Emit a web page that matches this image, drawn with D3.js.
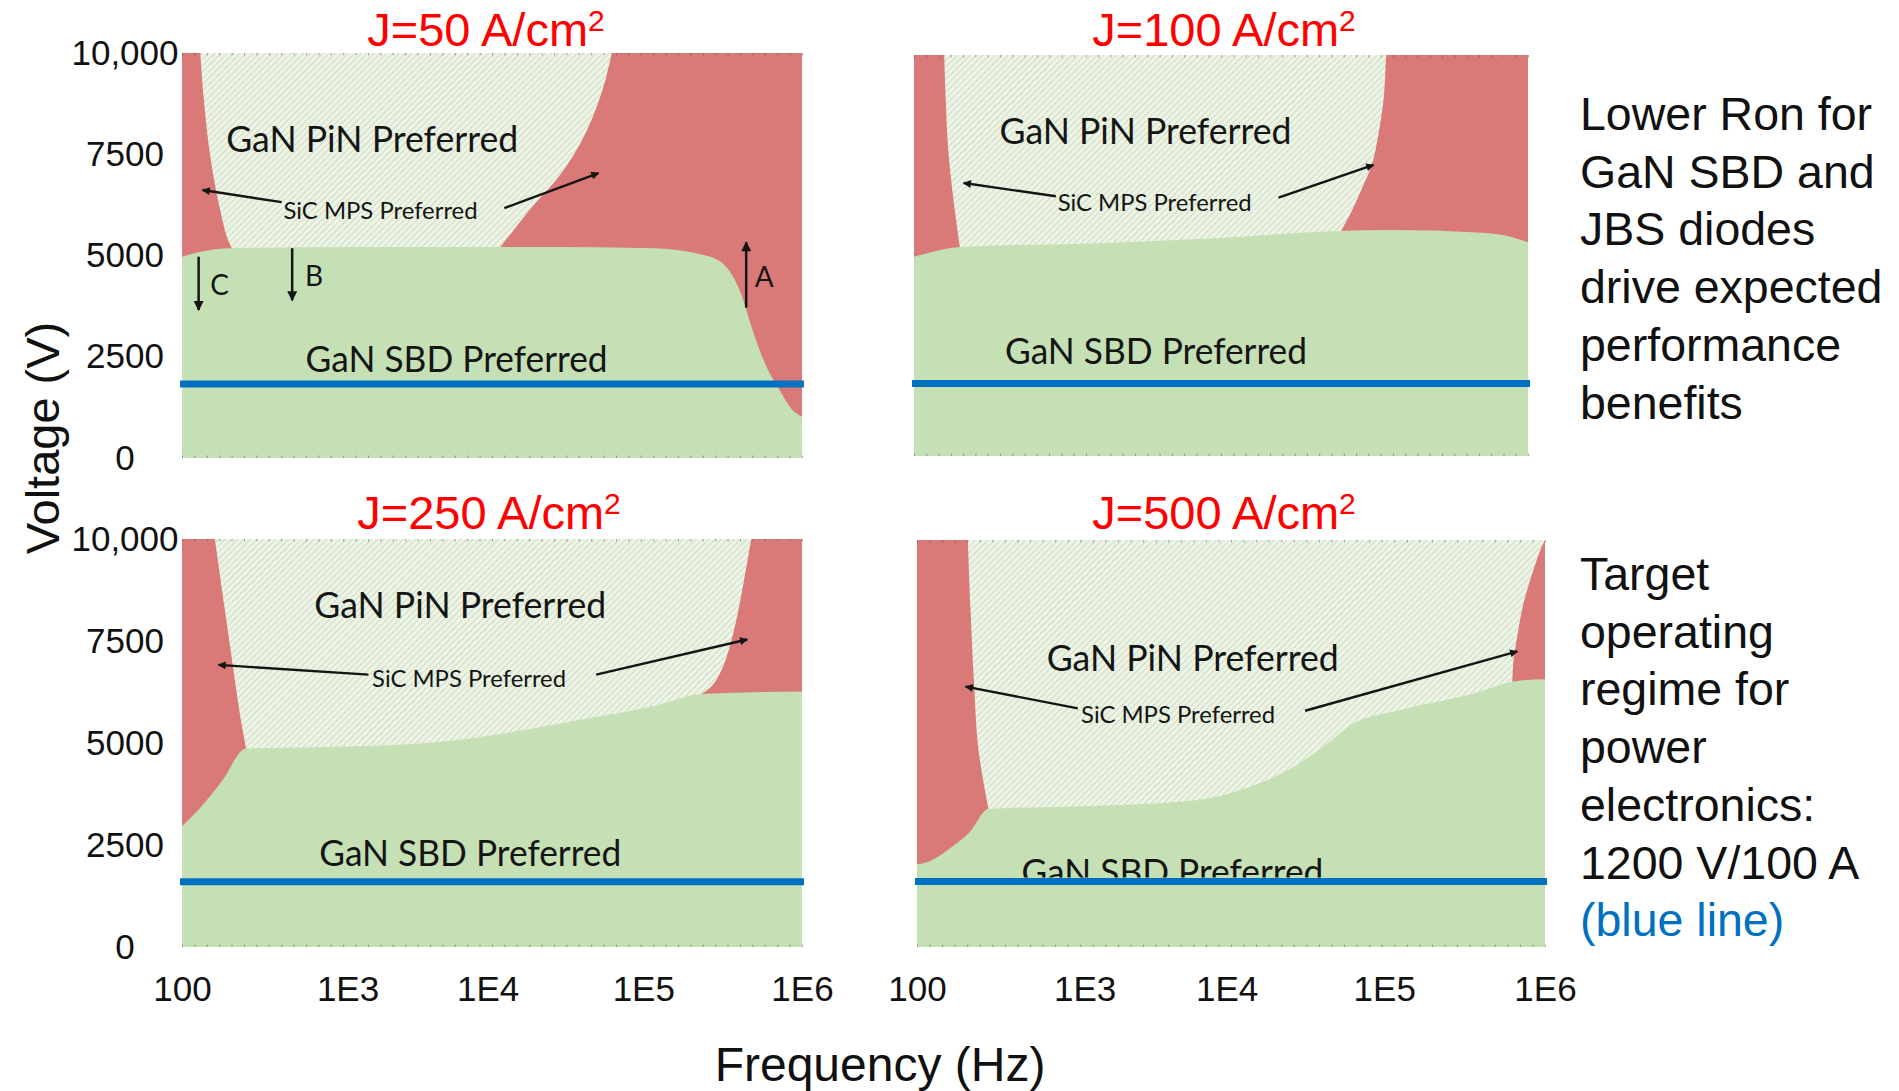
<!DOCTYPE html>
<html><head><meta charset="utf-8">
<script src="https://cdn.jsdelivr.net/npm/d3@7"></script>
<style>body{margin:0;background:#fff;} svg{display:block}</style>
</head><body>
<svg id="chart" width="1899" height="1091"></svg>
<script>
// ---------------- data ----------------
const currentDensity = [50, 100, 250, 500];
const freqTicks = [100, 1e3, 1e4, 1e5, 1e6];
const freqTickLabels = ["100", "1E3", "1E4", "1E5", "1E6"];
const voltTicks = [0, 2500, 5000, 7500, 10000];
const voltTickLabels = ["0", "2500", "5000", "7500", "10,000"];
const targetVoltage = [1830, 1810, 1600, 1610]; // blue line as drawn in each panel

// GaN PiN preferred region: left & right boundaries [freq Hz, voltage V], top to bottom
const pinLeft = [
  [[129,10000],[135,8920],[145,7725],[157,6826],[171,6078],[186,5479],[200,5180]],
  [[153,10000],[156,8946],[161,7741],[169,6837],[178,6084],[191,5181]],
  [[158,10000],[180,8368],[203,6884],[224,5697],[244,4866]],
  [[201,10000],[208,8393],[218,6607],[233,4821],[267,3393]]
];
const pinRight = [
  [[62700,10000],[57500,9371],[48000,8473],[38800,7725],[29000,6976],[19600,6228],[13700,5479],[11900,5180]],
  [[125000,10000],[121000,8946],[112000,8042],[102000,7289],[88000,6687],[74600,6084],[64600,5633]],
  [[479000,10000],[430000,8961],[375000,7804],[319000,6884],[272000,6409],[233000,6202]],
  [[1e6,10000],[931000,9732],[827000,9137],[730000,8393],[673000,7649],[637000,7054],[627000,6577]]
];
// GaN SBD preferred region: upper boundary [freq Hz, voltage V]
const sbdTop = [
  [[100,4970],[129,5090],[197,5180],[1300,5210],[23500,5210],[117000,5180],[229000,5030],[313000,4820],[414000,4042],[487000,3174],[589000,2305],[716000,1707],[851000,1228],[1e6,1018]],
  [[100,4970],[129,5090],[191,5211],[1210,5301],[9000,5422],[55600,5602],[137000,5633],[475000,5572],[806000,5452],[1e6,5331]],
  [[100,2967],[127,3383],[174,4065],[244,4866],[638,4896],[3270,4985],[13700,5252],[37400,5549],[117000,5905],[233000,6202],[1e6,6261]],
  [[100,2024],[124,2143],[159,2440],[204,2798],[267,3393],[882,3452],[5900,3601],[13300,3899],[28400,4494],[45800,5060],[60900,5446],[130000,5833],[331000,6190],[705000,6548],[1e6,6577]]
];
// region labels [freq, voltage]
const pinLabelPos = [[1500,7874],[3070,8102],[6380,8398],[5770,7113]];
const sicLabelPos = [[1720,6108],[3570,6325],[7370,6588],[4550,5714]];
const sbdLabelPos = [[6000,2455],[3650,2620],[7510,2315],[4150,1845]];
// SiC pointer arrows [tail, head]
const sicArrowLeft = [
  [[400,6317],[133,6617]], [[733,6476],[201,6807]], [[1410,6677],[166,6914]], [[910,5863],[195,6399]]
];
const sicArrowRight = [
  [[12800,6168],[51600,7036]], [[25200,6446],[104000,7259]], [[49800,6677],[452000,7537]], [[31500,5804],[673000,7262]]
];
// boundary shift arrows in J=50 panel
const shiftLabels = ["C", "B", "A"];
const shiftFreq = [126, 463, 445000];
const shiftFrom = [4970, 5180, 3713];
const shiftTo = [3653, 3892, 5329];
const shiftLabelPos = [[169,4281],[627,4491],[578000,4461]];

const sideText1 = ["Lower Ron for", "GaN SBD and", "JBS diodes", "drive expected", "performance", "benefits"];
const sideText2 = ["Target", "operating", "regime for", "power", "electronics:", "1200 V/100 A"];
const sideText2Blue = "(blue line)";

// ---------------- layout ----------------
const panels = [
  {left:182, right:802, top:53, bottom:458, titleX:486, titleY:46, xAxis:false},
  {left:914, right:1528, top:55, bottom:456, titleX:1224, titleY:46, xAxis:false},
  {left:182, right:802, top:539, bottom:947, titleX:489, titleY:529, xAxis:true},
  {left:917, right:1545, top:540, bottom:947, titleX:1224, titleY:529, xAxis:true}
];
const tickFrac = [0, 0.267, 0.493, 0.744, 1];
const C = {red:"#D97978", sbd:"#C5E0B4", pinBg:"#EDF3E6", pinLine:"#CADDBA", blue:"#0070C0", title:"#FF0000", ink:"#151515"};
const sansFont = "'Liberation Sans', Arial, sans-serif";
const labelFont = "Lato, 'Open Sans', sans-serif";

const svg = d3.select("#chart");
svg.append("rect").attr("width",1899).attr("height",1091).attr("fill","#fff");
const defs = svg.append("defs");
const pat = defs.append("pattern").attr("id","hatch").attr("patternUnits","userSpaceOnUse")
  .attr("width",4.5).attr("height",4.5).attr("patternTransform","rotate(45)");
pat.append("rect").attr("width",4.5).attr("height",4.5).attr("fill",C.pinBg);
pat.append("line").attr("x1",0).attr("y1",0).attr("x2",0).attr("y2",4.5).attr("stroke",C.pinLine).attr("stroke-width",1.8);
function marker(id, w, h){
  defs.append("marker").attr("id",id).attr("viewBox","0 0 10 10").attr("refX",9).attr("refY",5)
    .attr("markerWidth",w).attr("markerHeight",h).attr("markerUnits","userSpaceOnUse").attr("orient","auto")
    .append("path").attr("d","M0,0 L10,5 L0,10 z").attr("fill",C.ink);
}
marker("arrS", 10, 8);
marker("arrL", 12, 10);

panels.forEach((p, i) => {
  const fullX = d3.scaleLinear().domain([0,1]).range([p.left, p.right]);
  const x = d3.scaleLog().domain(freqTicks).range(tickFrac.map(fullX));
  const y = d3.scaleLinear().domain([0, 10000]).range([p.bottom, p.top]);
  const g = svg.append("g");
  const clipId = "clip"+i;
  defs.append("clipPath").attr("id",clipId).append("rect")
    .attr("x",p.left).attr("y",p.top).attr("width",p.right-p.left).attr("height",p.bottom-p.top);
  const regions = g.append("g").attr("clip-path",`url(#${clipId})`);
  // SiC MPS preferred (background)
  regions.append("rect").attr("x",p.left).attr("y",p.top).attr("width",p.right-p.left).attr("height",p.bottom-p.top).attr("fill",C.red);
  // GaN PiN preferred (hatched)
  const lineGen = d3.line().x(d=>x(d[0])).y(d=>y(d[1])).curve(d3.curveCatmullRom.alpha(0.5));
  const L = pinLeft[i], R = pinRight[i];
  const dPin = lineGen(L) + `L${x(L[L.length-1][0])},${y(0)}L${x(R[R.length-1][0])},${y(0)}` +
               lineGen(R.slice().reverse()).replace(/^M/,"L") + "Z";
  regions.append("path").attr("d",dPin).attr("fill","url(#hatch)");
  // GaN SBD preferred (solid)
  const areaGen = d3.area().x(d=>x(d[0])).y0(y(0)).y1(d=>y(d[1])).curve(d3.curveMonotoneX);
  regions.append("path").attr("d",areaGen(sbdTop[i])).attr("fill",C.sbd);

  // faint edge tick dots
  [p.top, p.bottom].forEach((yy, k) => {
    const ax = g.append("g").attr("transform",`translate(0,${yy})`)
      .call((k===0?d3.axisBottom(fullX):d3.axisTop(fullX)).ticks(45).tickSize(2.5).tickFormat(""));
    ax.select(".domain").remove();
    ax.selectAll("line").attr("stroke","#444").attr("stroke-opacity",0.45);
  });

  // labels
  const lab = g.append("g").attr("font-family",labelFont).attr("fill",C.ink).attr("text-anchor","middle");
  lab.append("text").attr("x",x(pinLabelPos[i][0])).attr("y",y(pinLabelPos[i][1])).attr("dy","0.36em")
    .attr("font-size",37).attr("textLength",292).attr("lengthAdjust","spacingAndGlyphs").text("GaN PiN Preferred");
  lab.append("text").attr("x",x(sicLabelPos[i][0])).attr("y",y(sicLabelPos[i][1])).attr("dy","0.36em")
    .attr("font-size",24).attr("textLength",194).attr("lengthAdjust","spacingAndGlyphs").text("SiC MPS Preferred");
  const sbdClip = "sbdclip"+i;
  defs.append("clipPath").attr("id",sbdClip).append("rect")
    .attr("x",p.left).attr("y",p.top).attr("width",p.right-p.left).attr("height",y(targetVoltage[i])-4-p.top);
  lab.append("text").attr("clip-path",`url(#${sbdClip})`).attr("x",x(sbdLabelPos[i][0])).attr("y",y(sbdLabelPos[i][1])).attr("dy","0.36em")
    .attr("font-size",37).attr("textLength",302).attr("lengthAdjust","spacingAndGlyphs").text("GaN SBD Preferred");
  [sicArrowLeft[i], sicArrowRight[i]].forEach(a => {
    g.append("line").attr("x1",x(a[0][0])).attr("y1",y(a[0][1])).attr("x2",x(a[1][0])).attr("y2",y(a[1][1]))
      .attr("stroke",C.ink).attr("stroke-width",2.4).attr("marker-end","url(#arrS)");
  });

  if (i === 0) {
    shiftLabels.forEach((s, k) => {
      g.append("line").attr("x1",x(shiftFreq[k])).attr("x2",x(shiftFreq[k]))
        .attr("y1",y(shiftFrom[k])).attr("y2",y(shiftTo[k]))
        .attr("stroke",C.ink).attr("stroke-width",2.5).attr("marker-end","url(#arrL)");
      lab.append("text").attr("x",x(shiftLabelPos[k][0])).attr("y",y(shiftLabelPos[k][1])).attr("dy","0.36em")
        .attr("font-size",28).text(s);
    });
  }

  // target line
  g.append("line").attr("x1",p.left-2).attr("x2",p.right+2)
    .attr("y1",y(targetVoltage[i])).attr("y2",y(targetVoltage[i]))
    .attr("stroke",C.blue).attr("stroke-width",7);

  // y axis (left panels)
  if (i % 2 === 0) {
    const ay = g.append("g").attr("transform",`translate(${p.left},0)`)
      .call(d3.axisLeft(y).tickValues(voltTicks).tickFormat((d,k)=>voltTickLabels[k]).tickSize(0));
    ay.select(".domain").remove();
    ay.selectAll("text").attr("x",-57).attr("text-anchor","middle")
      .attr("font-family",sansFont).attr("font-size",35).attr("fill","#111");
  }
  // x axis (bottom panels)
  if (p.xAxis) {
    const axx = g.append("g").attr("transform",`translate(0,${p.bottom})`)
      .call(d3.axisBottom(x).tickValues(freqTicks).tickFormat((d,k)=>freqTickLabels[k]).tickSize(0).tickPadding(29));
    axx.select(".domain").remove();
    axx.selectAll("text").attr("font-family",sansFont).attr("font-size",35).attr("fill","#111");
  }
  // title
  const t = svg.append("text").attr("x",p.titleX).attr("y",p.titleY).attr("text-anchor","middle")
    .attr("font-family",sansFont).attr("font-size",47).attr("fill",C.title);
  t.append("tspan").text(`J=${currentDensity[i]} A/cm`);
  t.append("tspan").attr("font-size",30).attr("dy",-15).text("2");
});

// axis titles
svg.append("text").attr("transform","translate(42,438) rotate(-90)").attr("text-anchor","middle").attr("dy","0.36em")
  .attr("font-family",sansFont).attr("font-size",47).attr("fill","#111").text("Voltage (V)");
svg.append("text").attr("x",880).attr("y",1081).attr("text-anchor","middle")
  .attr("font-family",sansFont).attr("font-size",48).attr("fill","#111").text("Frequency (Hz)");

// side notes
const side = svg.append("g").attr("font-family",sansFont).attr("font-size",46.5).attr("fill","#111");
sideText1.forEach((s,k)=> side.append("text").attr("x",1580).attr("y",130 + k*57.7).text(s));
sideText2.forEach((s,k)=> side.append("text").attr("x",1580).attr("y",590 + k*57.7).text(s));
side.append("text").attr("x",1580).attr("y",590 + sideText2.length*57.7).attr("fill",C.blue).text(sideText2Blue);
</script>
</body></html>
